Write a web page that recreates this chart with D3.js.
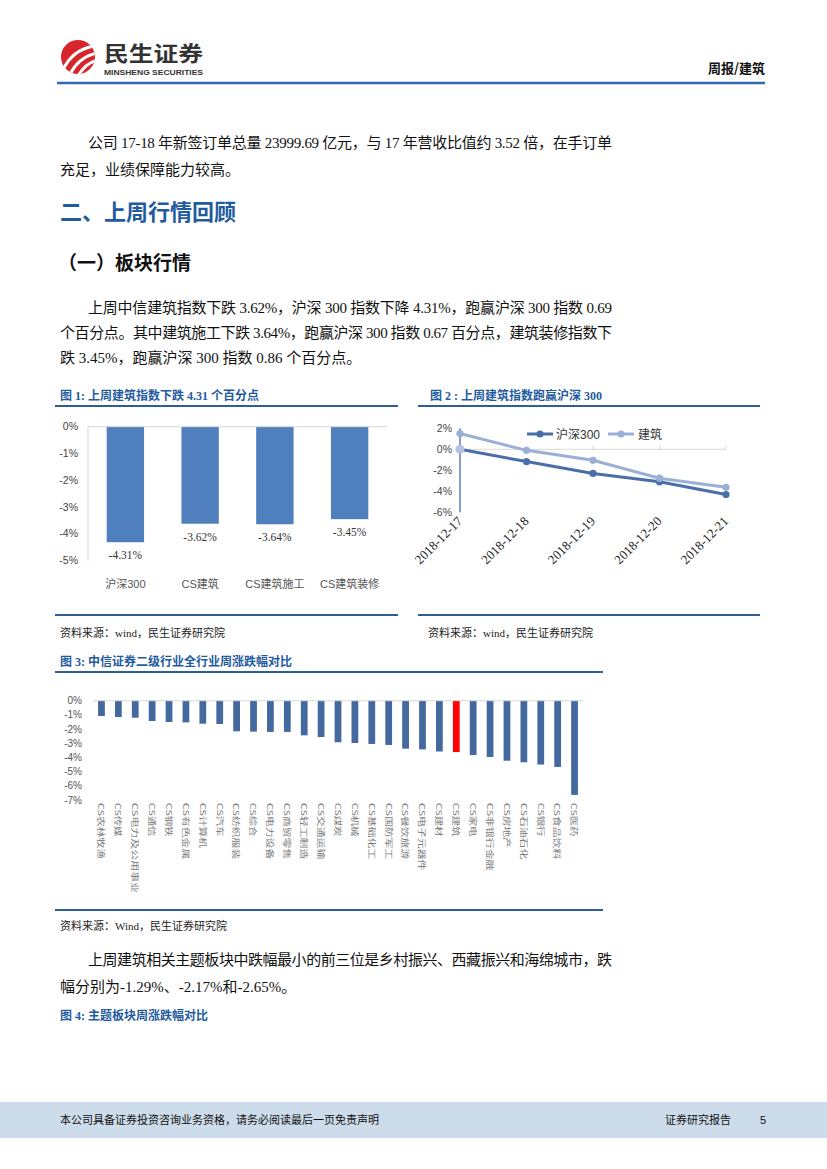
<!DOCTYPE html>
<html lang="zh">
<head>
<meta charset="UTF-8">
<title>周报/建筑</title>
<script src="https://cdn.jsdelivr.net/npm/d3@7"></script>
<style>
    body { margin: 0; background: #fff; }
    svg { display: block; }
    .serif { font-family: "Liberation Serif", "Noto Sans CJK SC", serif; }
    .sans { font-family: "Liberation Sans", "Noto Sans CJK SC", sans-serif; }
    .cjk { font-family: "Noto Sans CJK SC", sans-serif; }
</style>
</head>
<body>
<svg id="page" width="827" height="1169"></svg>
<script>
    // 图1 数据
    const cats1 = ["沪深300", "CS建筑", "CS建筑施工", "CS建筑装修"];
    const vals1 = [-4.31, -3.62, -3.64, -3.45];
    const ticks1 = [0, -1, -2, -3, -4, -5];

    // 图2 数据
    const dates2 = ["2018-12-17", "2018-12-18", "2018-12-19", "2018-12-20", "2018-12-21"];
    const hs300 = [0, -1.17, -2.3, -3.1, -4.31];
    const jianzhu = [1.5, -0.1, -1.05, -2.75, -3.62];
    const ticks2 = [2, 0, -2, -4, -6];

    // 图3 数据
    const cats3 = ["CS农林牧渔", "CS传媒", "CS电力及公用事业", "CS通信", "CS钢铁", "CS有色金属",
        "CS计算机", "CS汽车", "CS纺织服装", "CS综合", "CS电力设备", "CS商贸零售", "CS轻工制造",
        "CS交通运输", "CS煤炭", "CS机械", "CS基础化工", "CS国防军工", "CS餐饮旅游", "CS电子元器件",
        "CS建材", "CS建筑", "CS家电", "CS非银行金融", "CS房地产", "CS石油石化", "CS银行",
        "CS食品饮料", "CS医药"];
    const vals3 = [-1.08, -1.15, -1.2, -1.43, -1.5, -1.53, -1.62, -1.64, -2.16, -2.18, -2.2, -2.2,
        -2.44, -2.56, -2.93, -2.98, -3.05, -3.12, -3.38, -3.43, -3.58, -3.62, -3.83, -3.97,
        -4.23, -4.34, -4.5, -4.67, -6.64];
    const ticks3 = [0, -1, -2, -3, -4, -5, -6, -7];

    const blue = "#1f5b9e";
    const rule = "#2d5f96";
    const svg = d3.select("#page");

    // ---------- 页眉 ----------
    const logo = svg.append("g");
    logo.append("clipPath").attr("id", "logoClip")
        .append("circle").attr("cx", 78).attr("cy", 57).attr("r", 17);
    logo.append("circle").attr("cx", 78).attr("cy", 57).attr("r", 17).attr("fill", "#d6262c");
    const swoosh = logo.append("g").attr("clip-path", "url(#logoClip)");
    [[63, 70, 72, 50, 94, 46], [69, 76, 78, 57, 97, 53], [76, 80, 84, 63, 98, 60]].forEach(p => {
        swoosh.append("path")
            .attr("d", `M${p[0]},${p[1]} Q${p[2]},${p[3]} ${p[4]},${p[5]}`)
            .attr("fill", "none").attr("stroke", "#fff").attr("stroke-width", 3);
    });
    svg.append("text").attr("class", "cjk").attr("x", 104).attr("y", 61)
        .attr("font-size", 21).attr("font-weight", "bold").attr("fill", "#333")
        .attr("textLength", 99).attr("lengthAdjust", "spacingAndGlyphs").text("民生证券");
    svg.append("text").attr("class", "sans").attr("x", 104).attr("y", 75)
        .attr("font-size", 8).attr("font-weight", "bold").attr("fill", "#333")
        .attr("textLength", 99).attr("lengthAdjust", "spacingAndGlyphs").text("MINSHENG SECURITIES");
    svg.append("text").attr("class", "cjk").attr("x", 765).attr("y", 73)
        .attr("text-anchor", "end").attr("font-size", 13).attr("font-weight", "bold")
        .attr("fill", "#111").text("周报/建筑");
    svg.append("line").attr("x1", 57).attr("x2", 765).attr("y1", 83).attr("y2", 83)
        .attr("stroke", "#2e6aad").attr("stroke-width", 2.5);

    // ---------- 正文 ----------
    function para(x, y, str, width) {
        const t = svg.append("text").attr("class", "serif").attr("x", x).attr("y", y)
            .attr("font-size", 15).attr("fill", "#111").text(str);
        if (width) t.attr("textLength", width).attr("lengthAdjust", "spacing");
    }
    para(88, 148, "公司 17-18 年新签订单总量 23999.69 亿元，与 17 年营收比值约 3.52 倍，在手订单", 524);
    para(60, 175, "充足，业绩保障能力较高。");

    svg.append("text").attr("class", "cjk").attr("x", 60).attr("y", 220)
        .attr("font-size", 22).attr("font-weight", "bold").attr("fill", blue).text("二、上周行情回顾");
    svg.append("text").attr("class", "cjk").attr("x", 58).attr("y", 270)
        .attr("font-size", 19).attr("font-weight", "bold").attr("fill", "#111").text("（一）板块行情");

    para(88, 313, "上周中信建筑指数下跌 3.62%，沪深 300 指数下降 4.31%，跑赢沪深 300 指数 0.69", 524);
    para(60, 338, "个百分点。其中建筑施工下跌 3.64%，跑赢沪深 300 指数 0.67 百分点，建筑装修指数下", 552);
    para(60, 363, "跌 3.45%，跑赢沪深 300 指数 0.86 个百分点。");

    function figTitle(x, y, str) {
        svg.append("text").attr("class", "serif").attr("x", x).attr("y", y)
            .attr("font-size", 12).attr("font-weight", "bold").attr("fill", blue).text(str);
    }
    function hrule(x1, x2, y) {
        svg.append("line").attr("x1", x1).attr("x2", x2).attr("y1", y).attr("y2", y)
            .attr("stroke", rule).attr("stroke-width", 2);
    }
    function source(x, y, str) {
        svg.append("text").attr("class", "serif").attr("x", x).attr("y", y)
            .attr("font-size", 11).attr("fill", "#222").text(str);
    }

    // ---------- 图1 ----------
    figTitle(60, 400, "图 1:  上周建筑指数下跌 4.31 个百分点");
    hrule(55, 398, 406);
    hrule(55, 398, 615);
    source(60, 637, "资料来源：wind，民生证券研究院");

    const x1 = d3.scaleBand().domain(cats1).range([88, 387]).paddingInner(0.5).paddingOuter(0.25);
    const y1 = d3.scaleLinear().domain([-5, 0]).range([560.7, 426.7]);
    const g1 = svg.append("g");
    g1.append("line").attr("x1", 88).attr("x2", 88).attr("y1", y1(0)).attr("y2", y1(-5))
        .attr("stroke", "#d9d9d9");
    g1.selectAll(".t1").data(ticks1).enter().append("text")
        .attr("class", "sans").attr("x", 78).attr("y", d => y1(d) + 3.5)
        .attr("text-anchor", "end").attr("font-size", 10.5).attr("fill", "#444")
        .text(d => d + "%");
    g1.selectAll(".b1").data(vals1).enter().append("rect")
        .attr("x", (d, i) => x1(cats1[i])).attr("width", x1.bandwidth())
        .attr("y", y1(0)).attr("height", d => y1(d) - y1(0)).attr("fill", "#4f7fbc");
    g1.append("line").attr("x1", 88).attr("x2", 387).attr("y1", y1(0)).attr("y2", y1(0))
        .attr("stroke", "#d9d9d9");
    g1.selectAll(".l1").data(vals1).enter().append("text")
        .attr("class", "serif").attr("x", (d, i) => x1(cats1[i]) + x1.bandwidth() / 2)
        .attr("y", d => y1(d) + 17).attr("text-anchor", "middle")
        .attr("font-size", 11.5).attr("fill", "#333").text(d => d.toFixed(2) + "%");
    g1.selectAll(".c1").data(cats1).enter().append("text")
        .attr("class", "sans").attr("x", d => x1(d) + x1.bandwidth() / 2).attr("y", 588)
        .attr("text-anchor", "middle").attr("font-size", 11).attr("fill", "#555").text(d => d);

    // ---------- 图2 ----------
    figTitle(430, 400, "图 2 :  上周建筑指数跑赢沪深 300");
    hrule(418, 760, 406);
    hrule(418, 760, 615);
    source(428, 637, "资料来源：wind，民生证券研究院");

    const x2 = d3.scalePoint().domain(dates2).range([460, 726]);
    const y2 = d3.scaleLinear().domain([-6, 2]).range([512.3, 428.3]);
    const g2 = svg.append("g");
    g2.append("line").attr("x1", 460).attr("x2", 726).attr("y1", y2(0)).attr("y2", y2(0))
        .attr("stroke", "#d9d9d9");
    g2.selectAll(".tk2").data(dates2).enter().append("line")
        .attr("x1", d => x2(d)).attr("x2", d => x2(d))
        .attr("y1", y2(0) - 4).attr("y2", y2(0)).attr("stroke", "#d9d9d9");
    g2.append("line").attr("x1", 460).attr("x2", 460).attr("y1", y2(2)).attr("y2", y2(-6))
        .attr("stroke", "#5b7fb3").attr("stroke-width", 1.5);
    g2.selectAll(".t2").data(ticks2).enter().append("text")
        .attr("class", "sans").attr("x", 452).attr("y", d => y2(d) + 3.5)
        .attr("text-anchor", "end").attr("font-size", 10.5).attr("fill", "#444")
        .text(d => d + "%");
    g2.selectAll(".d2").data(dates2).enter().append("text")
        .attr("class", "serif").attr("font-size", 13).attr("fill", "#222")
        .attr("text-anchor", "end")
        .attr("transform", d => `translate(${x2(d) + 3},${522}) rotate(-45)`)
        .text(d => d);

    const series2 = [
        { name: "沪深300", vals: hs300, color: "#4a6fa8" },
        { name: "建筑", vals: jianzhu, color: "#9bb0d6" }
    ];
    const line2 = d3.line().x((d, i) => x2(dates2[i])).y(d => y2(d));
    series2.forEach(s => {
        g2.append("path").attr("d", line2(s.vals)).attr("fill", "none")
            .attr("stroke", s.color).attr("stroke-width", 3);
        g2.selectAll(null).data(s.vals).enter().append("circle")
            .attr("cx", (d, i) => x2(dates2[i])).attr("cy", d => y2(d)).attr("r", 3.6)
            .attr("fill", s.color);
    });
    // 起点处浅色大圆点
    g2.append("circle").attr("cx", x2(dates2[0])).attr("cy", y2(0)).attr("r", 4.5).attr("fill", "#b5c3de");

    const leg2 = [{ x: 527, tx: 556 }, { x: 608, tx: 638 }];
    series2.forEach((s, i) => {
        const L = leg2[i];
        g2.append("line").attr("x1", L.x).attr("x2", L.x + 26).attr("y1", 434).attr("y2", 434)
            .attr("stroke", s.color).attr("stroke-width", 3);
        g2.append("circle").attr("cx", L.x + 13).attr("cy", 434).attr("r", 3.6).attr("fill", s.color);
        g2.append("text").attr("class", "sans").attr("x", L.tx).attr("y", 438.5)
            .attr("font-size", 12).attr("fill", "#333").text(s.name);
    });

    // ---------- 图3 ----------
    figTitle(60, 666, "图 3:  中信证券二级行业全行业周涨跌幅对比");
    hrule(55, 603, 672);
    hrule(55, 603, 910);
    source(60, 930, "资料来源：Wind，民生证券研究院");

    const x3 = d3.scaleBand().domain(cats3).range([93, 583]).paddingInner(0.6).paddingOuter(0.3);
    const y3 = d3.scaleLinear().domain([-7, 0]).range([800, 700.7]);
    const g3 = svg.append("g");
    g3.selectAll(".t3").data(ticks3).enter().append("text")
        .attr("class", "sans").attr("x", 82).attr("y", d => y3(d) + 3.5)
        .attr("text-anchor", "end").attr("font-size", 10).attr("fill", "#555")
        .text(d => d + "%");
    g3.selectAll(".b3").data(vals3).enter().append("rect")
        .attr("x", (d, i) => x3(cats3[i])).attr("width", x3.bandwidth())
        .attr("y", y3(0)).attr("height", d => y3(d) - y3(0))
        .attr("fill", (d, i) => cats3[i] === "CS建筑" ? "#ff0000" : "#44699f");
    g3.append("line").attr("x1", 93).attr("x2", 583).attr("y1", y3(0)).attr("y2", y3(0))
        .attr("stroke", "#d9d9d9");
    // 竖排类别标签：原图字距较宽，按字数定长
    g3.selectAll(".c3").data(cats3).enter().append("text")
        .attr("class", "cjk").attr("font-size", 11).attr("fill", "#7a7a7a")
        .attr("dominant-baseline", "central")
        .attr("textLength", d => 11 + (d.length - 2) * 11.3)
        .attr("lengthAdjust", "spacingAndGlyphs")
        .attr("transform", d => `translate(${x3(d) + x3.bandwidth() / 2},803) rotate(90) scale(1,0.68)`)
        .text(d => d);

    // ---------- 末段 ----------
    para(88, 965, "上周建筑相关主题板块中跌幅最小的前三位是乡村振兴、西藏振兴和海绵城市，跌", 524);
    para(60, 992, "幅分别为-1.29%、-2.17%和-2.65%。");
    figTitle(60, 1020, "图 4:  主题板块周涨跌幅对比");

    // ---------- 页脚 ----------
    svg.append("rect").attr("x", 0).attr("y", 1102).attr("width", 827).attr("height", 36)
        .attr("fill", "#cddcea");
    svg.append("text").attr("class", "cjk").attr("x", 60).attr("y", 1124)
        .attr("font-size", 11).attr("fill", "#111").text("本公司具备证券投资咨询业务资格，请务必阅读最后一页免责声明");
    svg.append("text").attr("class", "cjk").attr("x", 665).attr("y", 1124)
        .attr("font-size", 11).attr("fill", "#111").text("证券研究报告");
    svg.append("text").attr("class", "sans").attr("x", 760).attr("y", 1124)
        .attr("font-size", 11).attr("fill", "#111").text("5");
</script>
</body>
</html>
